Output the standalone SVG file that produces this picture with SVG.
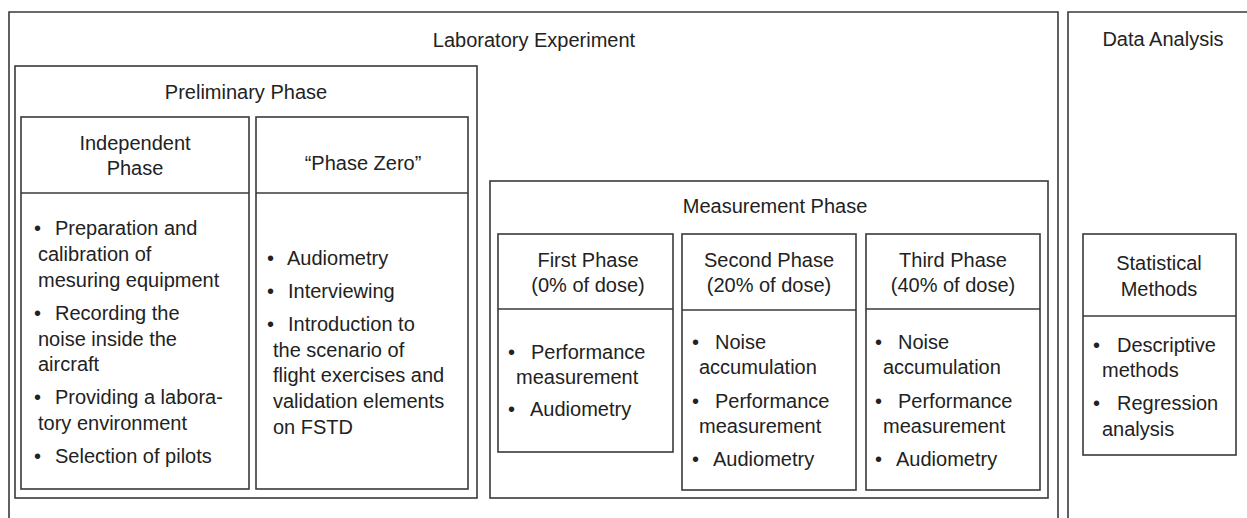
<svg xmlns="http://www.w3.org/2000/svg" width="1247" height="518" viewBox="0 0 1247 518">
<style>
.b{fill:none;stroke:#3a3a3a;stroke-width:1.6}
text{font-family:"Liberation Sans",Arial,sans-serif;font-size:20px;fill:#222}
.c{text-anchor:middle}
</style>
<rect width="1247" height="518" fill="#fff"/>
<g id="lab">
<path class="b" d="M9,518 V12 H1058 V518"/>
<text class="c" x="534" y="47">Laboratory Experiment</text>
</g>
<g id="data">
<path class="b" d="M1068,518 V12 H1247"/>
<text class="c" x="1163" y="46">Data Analysis</text>
</g>
<g id="prelim">
<rect class="b" x="15" y="66" width="462" height="432"/>
<text class="c" x="246" y="99">Preliminary Phase</text>
</g>
<g id="independent">
<rect class="b" x="21" y="117" width="228" height="372"/>
<line class="b" x1="21" y1="193" x2="249" y2="193"/>
<text class="c" x="135" y="150">Independent</text>
<text class="c" x="135" y="175">Phase</text>
<text x="34" y="235">•</text><text x="55" y="235">Preparation and</text>
<text x="38" y="261">calibration of</text>
<text x="38" y="287">mesuring equipment</text>
<text x="34" y="320">•</text><text x="55" y="320">Recording the</text>
<text x="38" y="346">noise inside the</text>
<text x="38" y="371">aircraft</text>
<text x="34" y="404">•</text><text x="55" y="404">Providing a labora-</text>
<text x="38" y="430">tory environment</text>
<text x="34" y="463">•</text><text x="55" y="463">Selection of pilots</text>
</g>
<g id="phasezero">
<rect class="b" x="256" y="117" width="212" height="372"/>
<line class="b" x1="256" y1="193" x2="468" y2="193"/>
<text class="c" x="363" y="170">“Phase Zero”</text>
<text x="267" y="265">•</text><text x="287" y="265">Audiometry</text>
<text x="267" y="298">•</text><text x="288" y="298">Interviewing</text>
<text x="267" y="331">•</text><text x="288" y="331">Introduction to</text>
<text x="273" y="357">the scenario of</text>
<text x="273" y="382">flight exercises and</text>
<text x="273" y="408">validation elements</text>
<text x="273" y="434">on FSTD</text>
</g>
<g id="measurement">
<rect class="b" x="490" y="181" width="558" height="317"/>
<text class="c" x="775" y="213">Measurement Phase</text>
</g>
<g id="first">
<rect class="b" x="498" y="234" width="175" height="218"/>
<line class="b" x1="498" y1="309" x2="673" y2="309"/>
<text class="c" x="588" y="267">First Phase</text>
<text class="c" x="588" y="292">(0% of dose)</text>
<text x="508" y="359">•</text><text x="531" y="359">Performance</text>
<text x="516" y="384">measurement</text>
<text x="508" y="416">•</text><text x="530" y="416">Audiometry</text>
</g>
<g id="second">
<rect class="b" x="682" y="234" width="174" height="256"/>
<line class="b" x1="682" y1="310" x2="856" y2="310"/>
<text class="c" x="769" y="267">Second Phase</text>
<text class="c" x="769" y="292">(20% of dose)</text>
<text x="692" y="349">•</text><text x="715" y="349">Noise</text>
<text x="699" y="374">accumulation</text>
<text x="692" y="408">•</text><text x="715" y="408">Performance</text>
<text x="699" y="433">measurement</text>
<text x="692" y="466">•</text><text x="713" y="466">Audiometry</text>
</g>
<g id="third">
<rect class="b" x="866" y="234" width="174" height="256"/>
<line class="b" x1="866" y1="309" x2="1040" y2="309"/>
<text class="c" x="953" y="267">Third Phase</text>
<text class="c" x="953" y="292">(40% of dose)</text>
<text x="875" y="349">•</text><text x="898" y="349">Noise</text>
<text x="883" y="374">accumulation</text>
<text x="875" y="408">•</text><text x="898" y="408">Performance</text>
<text x="883" y="433">measurement</text>
<text x="875" y="466">•</text><text x="896" y="466">Audiometry</text>
</g>
<g id="statistical">
<rect class="b" x="1083" y="234" width="153" height="221"/>
<line class="b" x1="1083" y1="316" x2="1236" y2="316"/>
<text class="c" x="1159" y="270">Statistical</text>
<text class="c" x="1159" y="296">Methods</text>
<text x="1093" y="352">•</text><text x="1117" y="352">Descriptive</text>
<text x="1102" y="377">methods</text>
<text x="1093" y="410">•</text><text x="1117" y="410">Regression</text>
<text x="1102" y="436">analysis</text>
</g>
<g id="connectors"></g>
</svg>
